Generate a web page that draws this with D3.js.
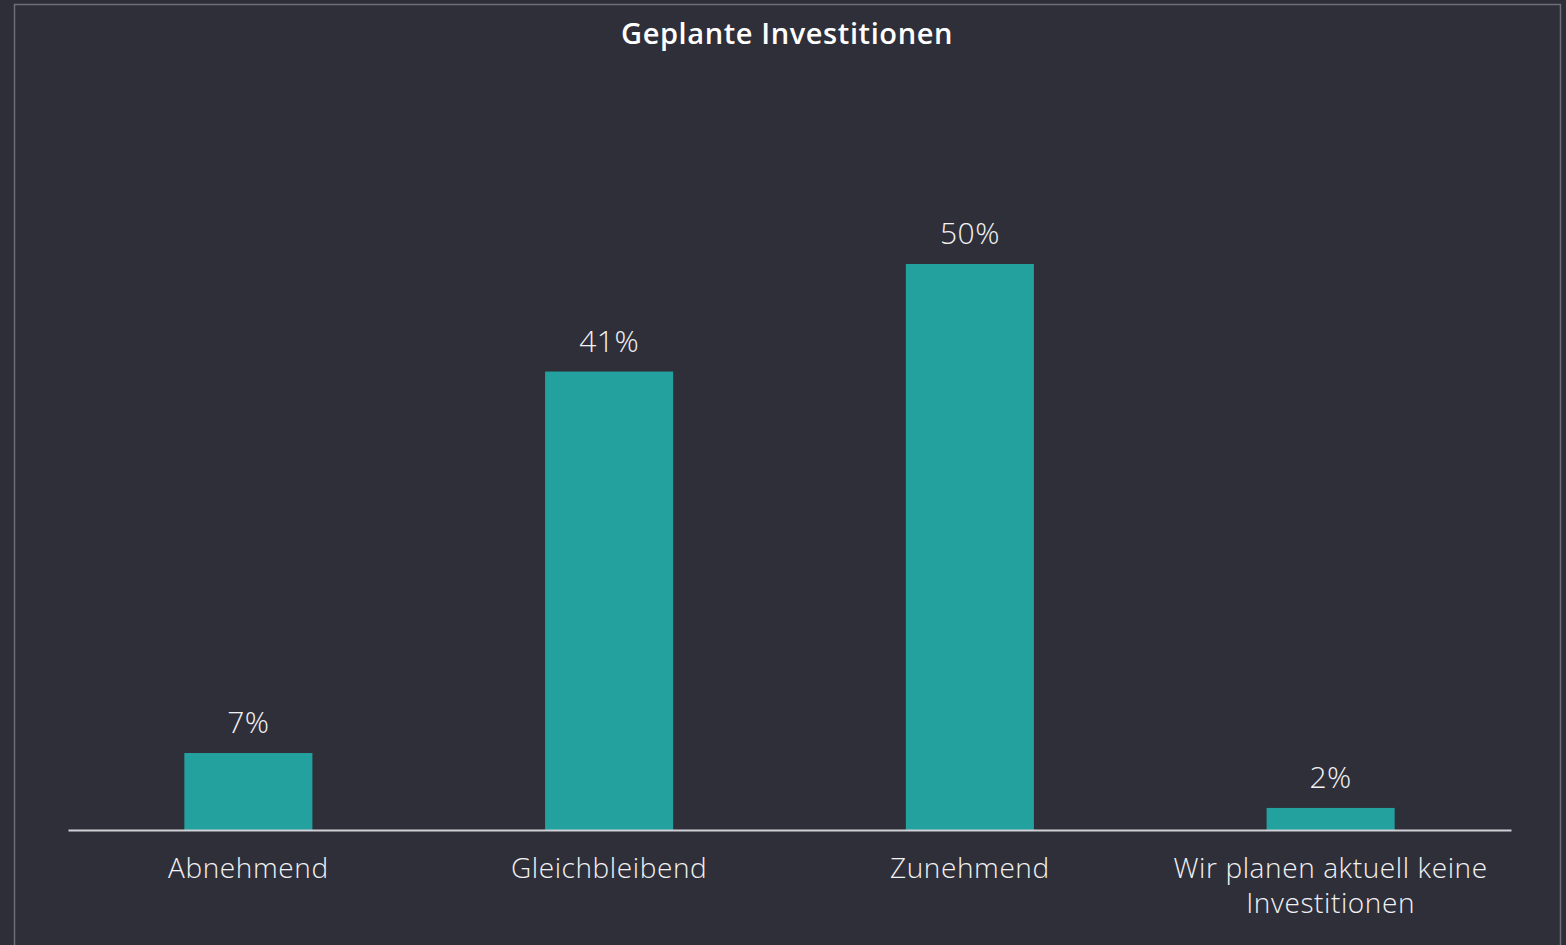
<!DOCTYPE html>
<html><head><meta charset="utf-8">
<script src="https://cdn.jsdelivr.net/npm/d3@7"></script>
<style>
html,body{margin:0;padding:0;background:#2e2e38;}
svg{display:block;}
</style></head>
<body>
<svg id="chart" width="1566" height="945"></svg>
<script>
const title = "Geplante Investitionen";
const categories = ["Abnehmend", "Gleichbleibend", "Zunehmend", "Wir planen aktuell keine Investitionen"];
const categoryLines = [["Abnehmend"], ["Gleichbleibend"], ["Zunehmend"], ["Wir planen aktuell keine", "Investitionen"]];
const values = [6.8, 40.5, 50, 1.95];
const valueLabels = ["7%", "41%", "50%", "2%"];

const W = 1566, H = 945;
const svg = d3.select("#chart");
const font = "'Open Sans', 'Noto Sans', sans-serif";

svg.append("rect").attr("width", W).attr("height", H).attr("fill", "#2e2e38");
svg.append("rect").attr("x", 14.5).attr("y", 4.5).attr("width", 1546).attr("height", 960)
  .attr("fill", "#2f2f3a").attr("stroke", "#6e6e78").attr("stroke-width", 1.5);

const x0 = 68, x1 = 1511, yBase = 830, yTop = 264;
const x = d3.scaleBand().domain(categories).range([x0, x1]).paddingInner(0.645).paddingOuter(0.3225);
const y = d3.scaleLinear().domain([0, 50]).range([yBase, yTop]);

svg.append("text").attr("x", 787).attr("y", 44).attr("text-anchor", "middle")
  .attr("fill", "#ffffff").attr("font-family", font).attr("font-weight", 600).attr("font-size", 29)
  .attr("letter-spacing", 0.6)
  .text(title);

svg.selectAll("rect.bar").data(values).join("rect").attr("class", "bar")
  .attr("x", (d, i) => x(categories[i])).attr("width", x.bandwidth())
  .attr("y", d => y(d)).attr("height", d => y(0) - y(d)).attr("fill", "#23a19f");

svg.selectAll("text.val").data(values).join("text").attr("class", "val")
  .attr("x", (d, i) => x(categories[i]) + x.bandwidth() / 2).attr("y", d => y(d) - 20)
  .attr("text-anchor", "middle").attr("fill", "#f2f2f2").attr("font-family", font)
  .attr("font-weight", 300).attr("font-size", 30).attr("letter-spacing", 0.5)
  .text((d, i) => valueLabels[i]);

const axis = d3.axisBottom(x).tickSize(0).tickFormat("");
const gAxis = svg.append("g").attr("transform", `translate(0,${yBase})`).call(axis);
gAxis.select(".domain").attr("stroke", "#d0d0d6").attr("stroke-width", 2);

svg.selectAll("text.cat").data(categories).join("text").attr("class", "cat")
  .attr("x", d => x(d) + x.bandwidth() / 2).attr("y", 878)
  .attr("text-anchor", "middle").attr("fill", "#f2f2f2").attr("font-family", font)
  .attr("font-weight", 300).attr("font-size", 28).attr("letter-spacing", 0.6)
  .each(function(d, i) {
    const t = d3.select(this);
    categoryLines[i].forEach((ln, j) => {
      t.append("tspan").attr("x", x(d) + x.bandwidth() / 2).attr("dy", j === 0 ? 0 : 35).text(ln);
    });
  });
</script>
</body></html>
